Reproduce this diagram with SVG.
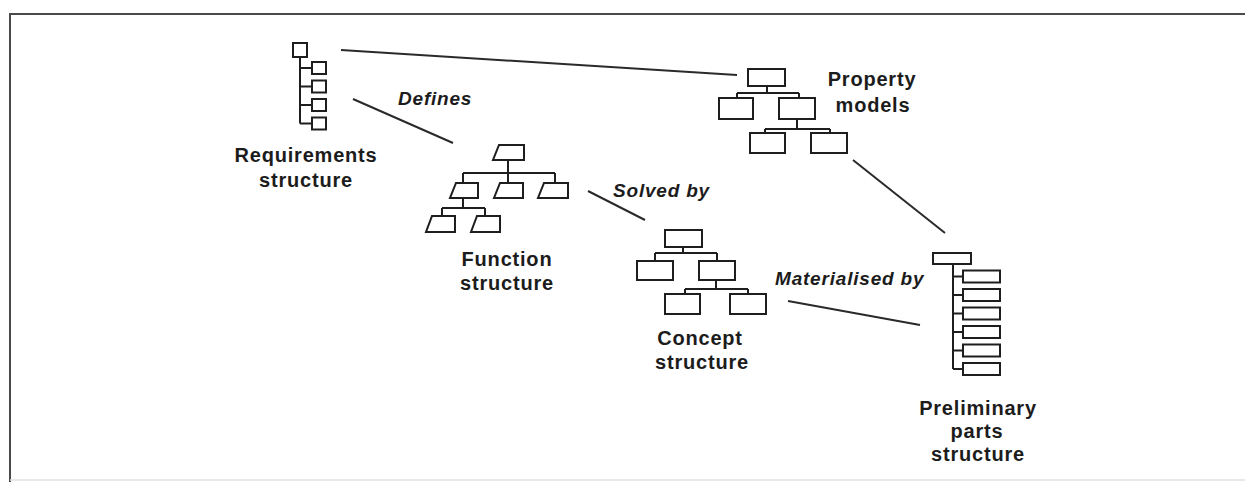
<svg xmlns="http://www.w3.org/2000/svg" width="1245" height="482" viewBox="0 0 1245 482">
  <style>
    .bg { fill: #ffffff; }
    .frame { fill: none; stroke: #4a4a4a; stroke-width: 2; }
    .frame-faint { fill: none; stroke: #e2e2e2; stroke-width: 1.5; }
    .box { fill: #ffffff; stroke: #1e1e1e; stroke-width: 2; }
    .tree { fill: none; stroke: #1e1e1e; stroke-width: 2; }
    .link { fill: none; stroke: #2a2a2a; stroke-width: 2; }
    .name { font-family: "Liberation Sans", Arial, sans-serif; font-size: 20px; font-weight: bold; fill: #1c1c1c; text-anchor: middle; letter-spacing: 0.8px; }
    .rel { font-family: "Liberation Sans", Arial, sans-serif; font-size: 19px; font-weight: bold; font-style: italic; fill: #1c1c1c; letter-spacing: 0.8px; }
  </style>

  <rect class="bg" x="0" y="0" width="1245" height="482"/>

  <!-- page frame -->
  <g id="frame">
    <polyline class="frame" points="10,482 10,14 1245,14"/>
    <line class="frame-faint" x1="10" y1="480" x2="1245" y2="480"/>
  </g>

  <!-- connectors between the structures -->
  <g id="connectors">
    <line class="link" x1="341" y1="50" x2="737" y2="75"/>
    <line class="link" x1="353" y1="99" x2="453" y2="143"/>
    <line class="link" x1="588" y1="191" x2="645" y2="220"/>
    <line class="link" x1="853" y1="160" x2="945" y2="233"/>
    <line class="link" x1="788" y1="301" x2="920" y2="325"/>
    <text class="rel" x="398" y="105">Defines</text>
    <text class="rel" x="613" y="197">Solved by</text>
    <text class="rel" x="775" y="285">Materialised by</text>
  </g>

  <!-- requirements: vertical list tree -->
  <g id="requirements">
    <path class="tree" d="M300,57 V123.5 M300,68 H312 M300,86.5 H312 M300,105 H312 M300,123.5 H312"/>
    <rect class="box" x="293" y="43" width="14" height="14"/>
    <rect class="box" x="312" y="62" width="14" height="12"/>
    <rect class="box" x="312" y="80.5" width="14" height="12"/>
    <rect class="box" x="312" y="99" width="14" height="12"/>
    <rect class="box" x="312" y="117.5" width="14" height="12"/>
    <text class="name" x="306" y="162">Requirements</text>
    <text class="name" x="306" y="187">structure</text>
  </g>

  <!-- function: tree of slanted blocks -->
  <g id="function">
    <path class="tree" d="M508,160 V173 M463,173 H555 M463,173 V183 M508,173 V183 M555,173 V183 M463,198 V208 M442,208 H485 M442,208 V216 M485,208 V216"/>
    <path class="box" d="M499,145 H524 V160 H493 Z"/>
    <path class="box" d="M456,183 H478 V198 H450 Z"/>
    <path class="box" d="M500,183 H523 V198 H494 Z"/>
    <path class="box" d="M544,183 H568 V198 H538 Z"/>
    <path class="box" d="M432,216 H455 V232 H426 Z"/>
    <path class="box" d="M477,216 H500 V232 H471 Z"/>
    <text class="name" x="507" y="266">Function</text>
    <text class="name" x="507" y="290">structure</text>
  </g>

  <!-- concept: rectangle tree -->
  <g id="concept">
    <path class="tree" d="M683,247 V253 M655,253 H717 M655,253 V261 M717,253 V261 M716,280 V289 M685,289 H748 M685,289 V294 M748,289 V294"/>
    <rect class="box" x="665" y="230" width="37" height="17"/>
    <rect class="box" x="637" y="261" width="36" height="19"/>
    <rect class="box" x="699" y="261" width="36" height="19"/>
    <rect class="box" x="665" y="294" width="35" height="20"/>
    <rect class="box" x="730" y="294" width="36" height="20"/>
    <text class="name" x="700" y="345">Concept</text>
    <text class="name" x="702" y="369">structure</text>
  </g>

  <!-- property models: rectangle tree -->
  <g id="property">
    <path class="tree" d="M767,86 V93 M737,93 H799 M737,93 V98 M799,93 V98 M797,119 V129 M765,129 H830 M765,129 V133 M830,129 V133"/>
    <rect class="box" x="748" y="69" width="37" height="17"/>
    <rect class="box" x="719" y="98" width="34" height="21"/>
    <rect class="box" x="779" y="98" width="36" height="21"/>
    <rect class="box" x="750" y="133" width="35" height="20"/>
    <rect class="box" x="811" y="133" width="36" height="20"/>
    <text class="name" x="872" y="86">Property</text>
    <text class="name" x="873" y="112">models</text>
  </g>

  <!-- preliminary parts: vertical list tree -->
  <g id="parts">
    <path class="tree" d="M953,264 V369 M953,276.5 H963 M953,295 H963 M953,313.5 H963 M953,332 H963 M953,350.5 H963 M953,369 H963"/>
    <rect class="box" x="933" y="253" width="38" height="11"/>
    <rect class="box" x="963" y="270.5" width="37" height="12"/>
    <rect class="box" x="963" y="289" width="37" height="12"/>
    <rect class="box" x="963" y="307.5" width="37" height="12"/>
    <rect class="box" x="963" y="326" width="37" height="12"/>
    <rect class="box" x="963" y="344.5" width="37" height="12"/>
    <rect class="box" x="963" y="363" width="37" height="12"/>
    <text class="name" x="978" y="415">Preliminary</text>
    <text class="name" x="977" y="438">parts</text>
    <text class="name" x="978" y="461">structure</text>
  </g>
</svg>
